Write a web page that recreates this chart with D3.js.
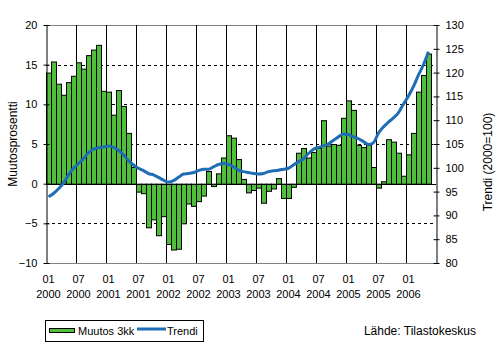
<!DOCTYPE html>
<html>
<head>
<meta charset="utf-8">
<script src="https://cdn.jsdelivr.net/npm/d3@7"></script>
<style>
  html, body { margin: 0; padding: 0; background: #fff; }
  svg { display: block; font-family: Arial, "Liberation Sans", sans-serif; }
</style>
</head>
<body>
<svg id="chart" width="501" height="346"></svg>
<script>
// Monthly series, January 2000 to May 2006
const startYear = 2000;
const monthCount = 78; // axis slots, Jan 2000 .. Jun 2006
const change3m = [
  14.0, 15.4, 12.6, 11.2, 12.8, 13.6, 15.3, 14.5, 16.2, 16.9, 17.5, 11.7,
  11.6, 8.7, 11.8, 9.8, 6.4, 2.1, -1.0, -1.2, -5.5, -4.5, -6.5, -4.1,
  -7.6, -8.3, -8.2, -5.0, -2.5, -2.8, -2.2, -1.5, 1.6, -0.3, 1.3, 3.3,
  6.1, 5.8, 3.1, 0.6, -1.1, -0.8, -0.5, -2.4, -0.9, -0.6, 0.7, -1.8,
  -1.8, -0.4, 3.9, 4.5, 3.3, 4.0, 4.5, 8.0, 4.8, 5.0, 4.9, 8.3,
  10.5, 9.3, 4.9, 4.6, 4.9, 2.1, -0.5, 0.3, 5.6, 5.3, 3.9, 1.0,
  3.7, 6.4, 11.6, 13.7, 16.4
];
const trend = [
  93.9, 94.6, 95.6, 96.8, 98.5, 99.9, 100.9, 101.9, 103.2, 103.9, 104.2, 104.4,
  104.6, 104.3, 103.7, 102.7, 101.5, 100.6, 99.9, 99.4, 98.8, 98.5, 98.0, 97.4,
  97.0, 97.3, 98.0, 98.7, 98.8, 99.0, 99.4, 99.7, 99.7, 100.2, 100.7, 100.9,
  100.7, 100.2, 99.5, 99.2, 99.0, 98.8, 98.7, 98.8, 99.2, 99.4, 99.5, 99.7,
  99.9, 100.6, 101.3, 101.9, 103.0, 103.9, 104.3, 104.6, 105.0, 105.8, 106.5, 107.1,
  107.0, 106.5, 106.1, 105.5, 104.9, 105.3, 107.3, 108.6, 109.6, 110.5, 111.6, 113.4,
  115.1, 117.1, 119.5, 121.7, 124.4
];
const leftTicks = [-10, -5, 0, 5, 10, 15, 20];
const rightTicks = [80, 85, 90, 95, 100, 105, 110, 115, 120, 125, 130];
const leftTitle = "Muutosprosentti";
const rightTitle = "Trendi (2000=100)";
const legendLabels = ["Muutos 3kk", "Trendi"];
const sourceText = "Lähde: Tilastokeskus";

const months = d3.range(monthCount).map(i => ({
  i,
  mm: String(i % 12 + 1).padStart(2, "0"),
  yyyy: String(startYear + Math.floor(i / 12))
}));

const svg = d3.select("#chart");
const M = { left: 46, right: 65, top: 25, bottom: 83 };
const W = +svg.attr("width"), H = +svg.attr("height");
const x0 = M.left, x1 = W - M.right, y0 = H - M.bottom, y1 = M.top;

const x = d3.scaleBand().domain(months.map(d => d.i)).range([x0, x1]).paddingInner(0).paddingOuter(0);
const yL = d3.scaleLinear().domain([-10, 20]).range([y0, y1]);
const yR = d3.scaleLinear().domain([80, 130]).range([y0, y1]);

const barColor = "#50bf3c";
const lineColor = "#1f6db5";

// Plot frame top/bottom (grey)
svg.append("line").attr("x1", x0).attr("x2", x1).attr("y1", y1 + 0.5).attr("y2", y1 + 0.5)
  .attr("stroke", "#808080");
svg.append("line").attr("x1", x0).attr("x2", x1).attr("y1", y0 + 0.5).attr("y2", y0 + 0.5)
  .attr("stroke", "#808080");

// Horizontal dashed gridlines
svg.append("g").selectAll("line")
  .data(leftTicks.filter(v => v !== 0 && v !== -10 && v !== 20))
  .join("line")
  .attr("x1", x0).attr("x2", x1)
  .attr("y1", d => Math.round(yL(d)) + 0.5).attr("y2", d => Math.round(yL(d)) + 0.5)
  .attr("stroke", "#000").attr("stroke-dasharray", "3,3");

// Vertical gridlines every six months
svg.append("g").selectAll("line")
  .data(months.filter(d => d.i % 6 === 0 && d.i > 0))
  .join("line")
  .attr("x1", d => Math.round(x(d.i)) + 0.5).attr("x2", d => Math.round(x(d.i)) + 0.5)
  .attr("y1", y1).attr("y2", y0)
  .attr("stroke", "#000");

// Bars
const zeroY = yL(0);
svg.append("g").selectAll("rect")
  .data(change3m)
  .join("rect")
  .attr("x", (d, i) => x(i) + 0.5)
  .attr("width", x.bandwidth())
  .attr("y", d => Math.min(yL(d), zeroY) + 0.5)
  .attr("height", d => Math.abs(yL(d) - zeroY))
  .attr("fill", barColor)
  .attr("stroke", "#000").attr("stroke-width", 1);

// Zero line
svg.append("line").attr("x1", x0).attr("x2", x1)
  .attr("y1", Math.round(zeroY) + 0.5).attr("y2", Math.round(zeroY) + 0.5)
  .attr("stroke", "#000");

// Trend line
const line = d3.line()
  .x((d, i) => x(i) + x.bandwidth() / 2)
  .y(d => yR(d))
  .curve(d3.curveMonotoneX);
svg.append("path").datum(trend)
  .attr("d", line)
  .attr("fill", "none").attr("stroke", lineColor).attr("stroke-width", 3)
  .attr("stroke-linejoin", "round");

// Left axis
const gL = svg.append("g").attr("transform", `translate(${x0 + 0.5},0)`)
  .call(d3.axisLeft(yL).tickValues(leftTicks).tickSizeInner(3).tickSizeOuter(0).tickPadding(6));
gL.select(".domain").attr("stroke", "#000");
gL.selectAll(".tick line").attr("x2", 3).attr("x1", -3).attr("stroke", "#000");
gL.selectAll(".tick text").attr("font-size", 11).attr("fill", "#000")
  .attr("font-family", "Arial, 'Liberation Sans', sans-serif");

// Right axis
const gR = svg.append("g").attr("transform", `translate(${x1 + 0.5},0)`)
  .call(d3.axisRight(yR).tickValues(rightTicks).tickSizeInner(3).tickSizeOuter(0).tickPadding(6));
gR.select(".domain").attr("stroke", "#000");
gR.selectAll(".tick line").attr("x1", -3).attr("x2", 3).attr("stroke", "#000");
gR.selectAll(".tick text").attr("font-size", 11).attr("fill", "#000")
  .attr("font-family", "Arial, 'Liberation Sans', sans-serif");

// X labels: month over year, every six months
const xl = svg.append("g").selectAll("text")
  .data(months.filter(d => d.i % 6 === 0 && d.i < change3m.length))
  .join("text")
  .attr("text-anchor", "middle")
  .attr("font-size", 11)
  .attr("fill", "#000");
xl.append("tspan").attr("x", d => x(d.i) + x.bandwidth() / 2).attr("y", y0 + 20).text(d => d.mm);
xl.append("tspan").attr("x", d => x(d.i) + x.bandwidth() / 2).attr("y", y0 + 35).text(d => d.yyyy);

// Axis titles
svg.append("text")
  .attr("transform", `translate(17,${(y0 + y1) / 2}) rotate(-90)`)
  .attr("text-anchor", "middle").attr("font-size", 12).attr("fill", "#000")
  .text(leftTitle);
svg.append("text")
  .attr("transform", `translate(492,${(y0 + y1) / 2 + 18}) rotate(-90)`)
  .attr("text-anchor", "middle").attr("font-size", 12).attr("fill", "#000")
  .text(rightTitle);

// Legend
const lg = svg.append("g");
lg.append("rect").attr("x", 45.5).attr("y", 320.5).attr("width", 158).attr("height", 21)
  .attr("fill", "#fff").attr("stroke", "#000");
lg.append("rect").attr("x", 49.5).attr("y", 328.5).attr("width", 25).attr("height", 4)
  .attr("fill", barColor).attr("stroke", "#000");
lg.append("text").attr("x", 78).attr("y", 334.5).attr("font-size", 11).attr("fill", "#000")
  .text(legendLabels[0]);
lg.append("line").attr("x1", 137).attr("x2", 166).attr("y1", 329).attr("y2", 329)
  .attr("stroke", lineColor).attr("stroke-width", 3);
lg.append("text").attr("x", 167).attr("y", 334.5).attr("font-size", 11).attr("fill", "#000")
  .text(legendLabels[1]);

svg.append("text").attr("x", 476).attr("y", 335).attr("text-anchor", "end")
  .attr("font-size", 12).attr("fill", "#000").text(sourceText);
</script>
</body>
</html>
